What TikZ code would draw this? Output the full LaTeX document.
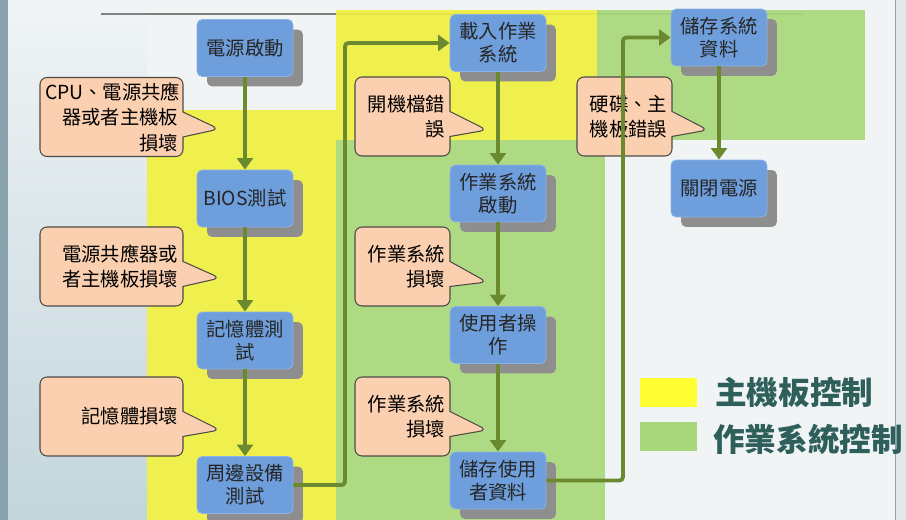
\documentclass[tikz,border=0pt]{standalone}
\usepackage{fontspec}
\setmainfont{Noto Sans CJK TC}
\usetikzlibrary{arrows.meta,shapes.callouts,shadows}
\definecolor{boxblue}{HTML}{6E9EDB}
\definecolor{boxedge}{HTML}{8DB3E8}
\definecolor{shadowgray}{HTML}{8E8E8E}
\definecolor{warnfill}{HTML}{FBD0B0}
\definecolor{warnedge}{HTML}{4E4A46}
\definecolor{arrowgreen}{HTML}{6B8A30}
\definecolor{regyellow}{HTML}{EFEF3C}
\definecolor{reggreen}{HTML}{A9D878}
\definecolor{legyellow}{HTML}{FFFF33}
\definecolor{leggreen}{HTML}{A8D67A}
\definecolor{legtext}{HTML}{2E5F5B}
\definecolor{bgtop}{HTML}{F0F4F5}
\definecolor{bgleft}{HTML}{C3D5DC}
\definecolor{bgedge}{HTML}{8AA3AE}
\definecolor{bgright}{HTML}{E3E9EB}

\begin{document}
\begin{tikzpicture}[x=0.02cm, y=-0.02cm,
    proc/.style={rectangle, rounded corners=3pt, fill=boxblue, draw=boxedge, line width=0.5pt,
      minimum width=1.92cm, minimum height=1.14cm, inner sep=2pt, align=center, text=black!85,
      font=\fontsize{11}{13}\selectfont,
      drop shadow={fill=shadowgray, opacity=1, shadow xshift=0.2cm, shadow yshift=-0.2cm}},
    warn/.style={rectangle callout, rounded corners=4pt, fill=warnfill, draw=warnedge, line width=0.6pt,
      callout pointer width=0.5cm, align=right, inner xsep=0.1cm, inner ysep=2pt,
      minimum height=1.58cm, font=\fontsize{11}{14.5}\selectfont},
    arr/.style={draw=arrowgreen, line width=2.2pt, rounded corners=2pt, -{Triangle[length=6.5pt,width=9pt]}}]
  \useasboundingbox (0,0) rectangle (906,520);
  \fill[bgtop] (0,0) rectangle (895,520);
  \shade[top color=bgtop, bottom color=bgleft] (0,0) rectangle (147,520);
  \fill[bgedge] (0,0) rectangle (8,520);
  \fill[bgright] (895,0) rectangle (906,520);
  \draw[bgedge] (895,0) -- (895,520);
  \draw[gray, line width=1pt] (101,14) -- (803,14);

  \fill[regyellow, fill opacity=0.9] (147,110) rectangle (336,520);
  \fill[regyellow, fill opacity=0.9] (336,10) rectangle (597,140);
  \fill[reggreen, fill opacity=0.9] (336,140) rectangle (605,520);
  \fill[reggreen, fill opacity=0.9] (597,10) rectangle (865,140);

  \node[warn, text width=2.66cm, callout absolute pointer={(219,129)}] (w1) at (111.5,117) {CPU、電源共應\\器或者主機板\\損壞};
  \node[warn, text width=2.66cm, callout absolute pointer={(220,278)}] (w2) at (111.5,266.5) {電源共應器或\\者主機板損壞};
  \node[warn, text width=2.66cm, callout absolute pointer={(220,430)}] (w3) at (111.5,416.5) {記憶體損壞};
  \node[warn, text width=1.7cm, callout absolute pointer={(487,130)}] (w4) at (402.5,116.5) {開機檔錯\\誤};
  \node[warn, text width=1.7cm, callout absolute pointer={(487,282)}] (w5) at (402.5,266.5) {作業系統\\損壞};
  \node[warn, text width=1.7cm, callout absolute pointer={(487,430)}] (w6) at (402.5,416.5) {作業系統\\損壞};
  \node[warn, text width=1.7cm, callout absolute pointer={(708,130)}] (w7) at (624.5,116.5) {硬碟、主\\機板錯誤};

  \node[proc] (power) at (245,48) {電源啟動};
  \node[proc] (bios) at (245,198.5) {BIOS測試};
  \node[proc] (mem) at (245,340.5) {記憶體測\\試};
  \node[proc] (periph) at (245,485) {周邊設備\\測試};
  \node[proc] (loados) at (498,43) {載入作業\\系統};
  \node[proc] (osboot) at (498,193.5) {作業系統\\啟動};
  \node[proc] (useop) at (498,335) {使用者操\\作};
  \node[proc] (savuser) at (498,480.5) {儲存使用\\者資料};
  \node[proc] (savsys) at (719,37.5) {儲存系統\\資料};
  \node[proc] (off) at (719,188.5) {關閉電源};

  \coordinate (bendA) at (345,300);
  \coordinate (bendB) at (623,300);
  \draw[arr] (power) -- (bios);
  \draw[arr] (bios) -- (mem);
  \draw[arr] (mem) -- (periph);
  \draw[arr] (periph.east) -| (bendA) |- (loados.west);
  \draw[arr] (loados) -- (osboot);
  \draw[arr] (osboot) -- (useop);
  \draw[arr] (useop) -- (savuser);
  \draw[arr] (savuser.east) -| (bendB) |- (savsys.west);
  \draw[arr] (savsys) -- (off);

  \node[fill=legyellow, minimum width=1.14cm, minimum height=0.58cm] (keyA) at (668.5,392.5) {};
  \node[fill=leggreen, minimum width=1.14cm, minimum height=0.58cm] (keyB) at (668.5,436.5) {};
  \node[anchor=west, text=legtext, font=\fontsize{18}{20}\selectfont\bfseries] (keyAtxt) at (709,392) {主機板控制};
  \node[anchor=west, text=legtext, font=\fontsize{18}{20}\selectfont\bfseries] (keyBtxt) at (707,439) {作業系統控制};
\end{tikzpicture}
\end{document}
